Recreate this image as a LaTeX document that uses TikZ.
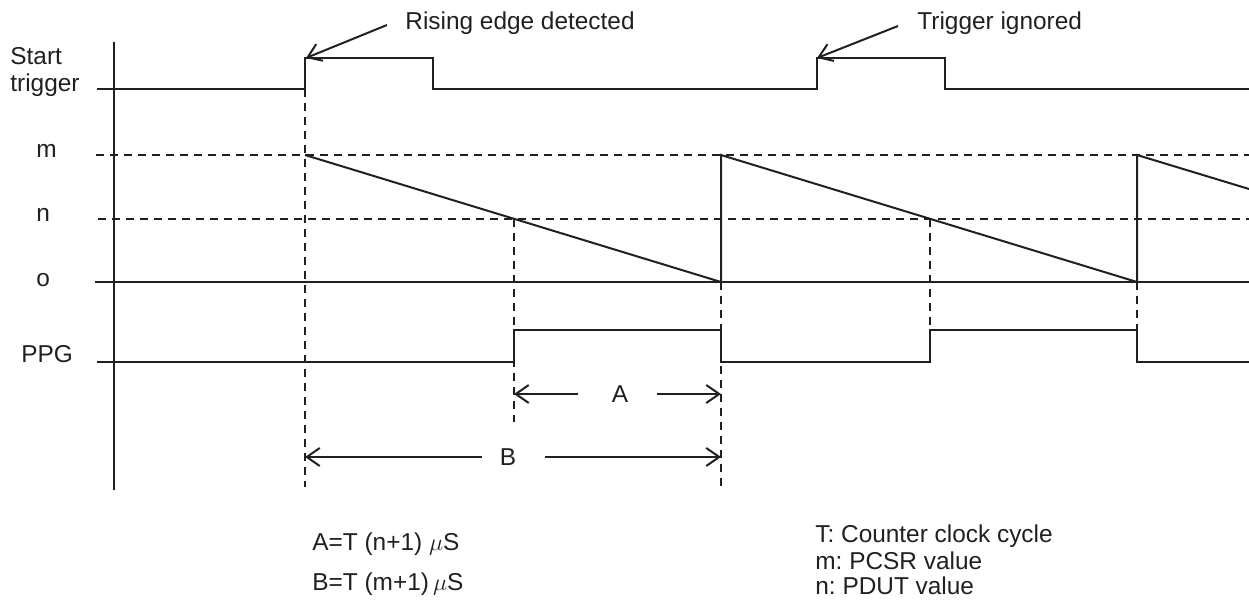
\documentclass[tikz,border=0pt]{standalone}
\usepackage{fontspec}
\setmainfont{Liberation Sans}
\usetikzlibrary{arrows.meta}
\definecolor{ink}{RGB}{35,31,32}
\frenchspacing
\begin{document}
\begin{tikzpicture}[x=0.5pt,y=-0.5pt, color=ink,
  sig/.style={line width=1pt, line join=miter},
  dsh/.style={line width=1pt, dash pattern=on 4pt off 3pt},
  arr/.style={-{Straight Barb[length=6.5pt,width=9pt]}, line width=1pt},
  lbl/.style={anchor=base west, inner sep=0pt, text=ink, font=\fontsize{12.2}{13}\selectfont},
  mid/.style={anchor=center, inner sep=0pt, text=ink, font=\fontsize{12.2}{13}\selectfont}]
\useasboundingbox (0,0) rectangle (1249,604);
% key coordinates
\coordinate (axT) at (114,42);
\coordinate (axB) at (114,490);
\coordinate (t1) at (305,89);
\coordinate (t1b) at (305,487);
\coordinate (r1) at (514,219);
\coordinate (r1b) at (514,422);
\coordinate (z1) at (721,282);
\coordinate (z1b) at (721,487);
\coordinate (r2) at (930,219);
\coordinate (r2b) at (930,330);
\coordinate (z2) at (1137,282);
\coordinate (z2b) at (1137,330);
% axis
\draw[line width=1pt] (axT) -- (axB);
% start trigger
\draw[sig] (97,89) -- (305,89) -- (305,58) -- (433,58) -- (433,89) -- (817,89) -- (817,58) -- (945,58) -- (945,89) -- (1249,89);
% levels
\draw[dsh] (96,155) -- (1249,155);
\draw[dsh] (98,219) -- (1249,219);
\draw[line width=1pt] (95,282) -- (1249,282);
% counter ramps
\draw[sig] (305,155) -- (721,282) -- (721,155) -- (1137,282) -- (1137,155) -- (1249,189);
% PPG
\draw[sig] (97,362) -- (514,362) -- (514,330) -- (721,330) -- (721,362) -- (930,362) -- (930,330) -- (1137,330) -- (1137,362) -- (1249,362);
% dashed verticals
\draw[dsh] (t1) -- (t1b);
\draw[dsh] (r1) -- (r1b);
\draw[dsh] (z1) -- (z1b);
\draw[dsh] (r2) -- (r2b);
\draw[dsh] (z2) -- (z2b);
% A and B spans
\node[mid] (A) at (620,394) {A};
\node[mid] (B) at (508,457) {B};
\coordinate (Al) at (578,394); \coordinate (Ar) at (657,394);
\coordinate (Ae1) at (514,394); \coordinate (Ae2) at (721,394);
\coordinate (Bl) at (482,457); \coordinate (Br) at (545,457);
\coordinate (Be1) at (305,457); \coordinate (Be2) at (721,457);
\draw[arr] (Al) -- (Ae1);
\draw[arr] (Ar) -- (Ae2);
\draw[arr] (Bl) -- (Be1);
\draw[arr] (Br) -- (Be2);
% signal labels
\node[lbl] (ls) at (10,65) {Start};
\node[lbl] (lt) at (10,92) {trigger};
\node[lbl] (lm) at (36,158) {m};
\node[lbl] (ln) at (36,222) {n};
\node[lbl] (lo) at (36,287) {o};
\node[lbl] (lp) at (21,363) {PPG};
% callouts
\node[lbl] (rise) at (405,30) {Rising edge detected};
\node[lbl] (ign) at (917,30) {Trigger ignored};
\coordinate (riseS) at (387,25); \coordinate (riseE) at (306,58);
\coordinate (ignS) at (898,26); \coordinate (ignE) at (817,58);
\draw[arr] (riseS) -- (riseE);
\draw[arr] (ignS) -- (ignE);
% formulas and legend
\node[lbl] (fa) at (312,550) {A=T (n+1) $\mu$S};
\node[lbl] (fb) at (312,590) {B=T (m+1)\,$\mu$S};
\node[lbl] (g1) at (815,543) {T: Counter clock cycle};
\node[lbl] (g2) at (815,569) {m: PCSR value};
\node[lbl] (g3) at (815,595) {n: PDUT value};
\end{tikzpicture}
\end{document}
